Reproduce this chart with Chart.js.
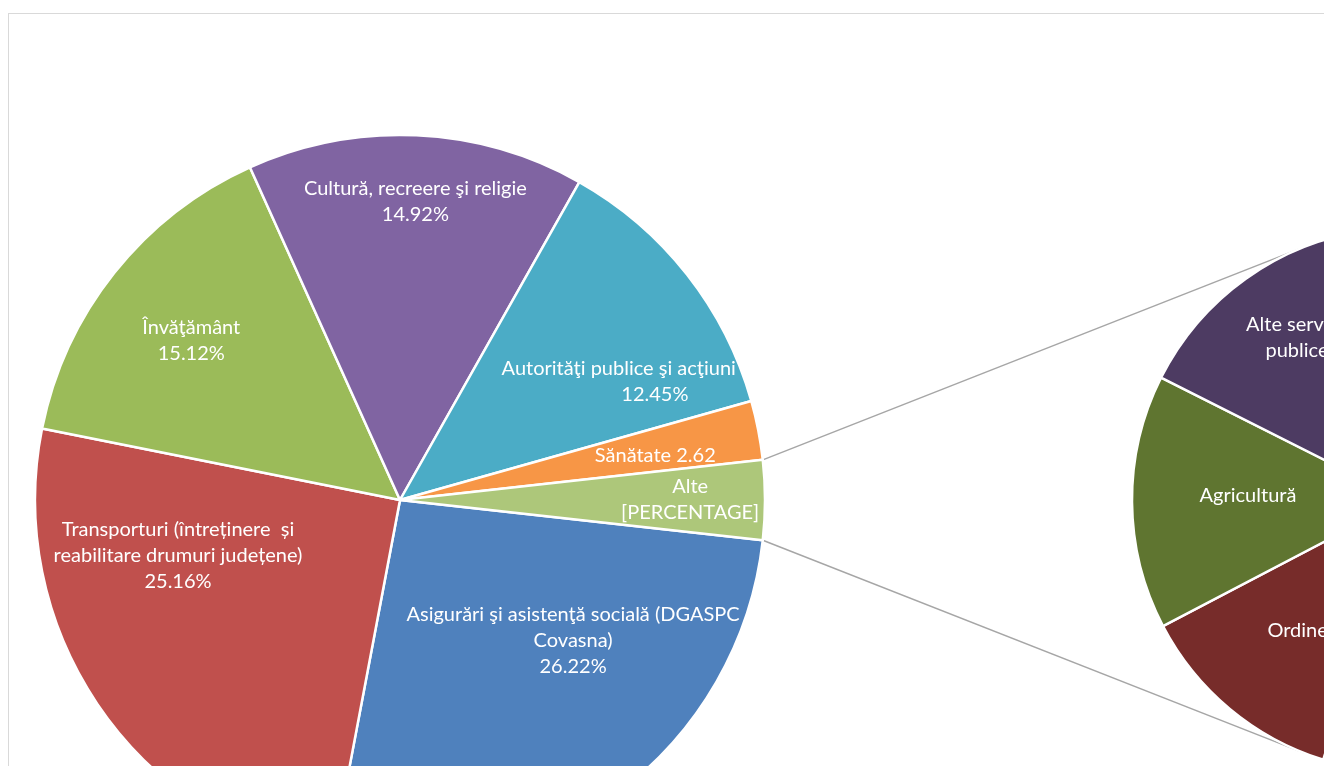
<!DOCTYPE html>
<html><head><meta charset="utf-8">
<script src="https://cdn.jsdelivr.net/npm/chart.js@4.4.1/dist/chart.umd.min.js"></script>
<style>
html,body{margin:0;padding:0;background:#fff;overflow:hidden;width:1324px;height:766px;}
#frame{position:absolute;left:8px;top:13px;width:1500px;height:1000px;border:1.5px solid #D9D9D9;box-sizing:border-box;}
#main{position:absolute;left:0;top:0;}
#second{position:absolute;left:700px;top:0;}
</style></head><body>
<div id="frame"></div>
<canvas id="second" width="1408" height="1000" style="width:1408px;height:1000px"></canvas>
<canvas id="main" width="800" height="1000" style="width:800px;height:1000px"></canvas>
<script>
// ---- main pie data ----
const categories = [
  "Asigurări şi asistenţă socială (DGASPC Covasna)",
  "Transporturi (întreținere  și reabilitare drumuri județene)",
  "Învăţământ",
  "Cultură, recreere şi religie",
  "Autorităţi publice şi acţiuni externe",
  "Sănătate",
  "Alte"
];
const shares = [26.22, 25.16, 15.12, 14.92, 12.45, 2.62, 3.51];
const labelLines = [
  ["Asigurări şi asistenţă socială (DGASPC", "Covasna)", "26.22%"],
  ["Transporturi (întreținere  și", "reabilitare drumuri județene)", "25.16%"],
  ["Învăţământ", "15.12%"],
  ["Cultură, recreere şi religie", "14.92%"],
  ["Autorităţi publice şi acţiuni externe", "12.45%"],
  ["Sănătate 2.62"],
  ["Alte", "[PERCENTAGE]"]
];
const colors = ["#4F81BD", "#C0504D", "#9BBB59", "#8064A2", "#4BACC6", "#F79646", "#ADC77A"];

// ---- secondary pie (breakdown of "Alte") ----
const otherCategories = ["Alte cheltuieli", "Ordine publică", "Agricultură", "Alte servicii publice"];
const otherShares = [2.00, 0.44, 0.53, 0.54];
const otherLabelLines = [["Alte cheltuieli"], ["Ordine publică"], ["Agricultură"], ["Alte servicii", "publice"]];
const otherColors = ["#3A5F8B", "#772C2A", "#5F7530", "#4D3B62"];

// label placement inside slices: [fraction of slice angle, fraction of radius]
const mainPlacement = [[0.346, 0.61], [0.72, 0.627], [0.48, 0.72], [0.507, 0.82], [0.795, 0.77], [0.62, 0.71], [0.5, 0.795]];
const otherPlacement = [[0.5, 0.6], [0.26, 0.55], [0.54, 0.574], [0.538, 0.714]];

const FONT = '20px Lato';
const LINE_H = 26;

function labelPlugin(linesArr, placement) {
  return {
    id: 'sliceLabels',
    afterDatasetsDraw(chart) {
      const ctx = chart.ctx;
      const arcs = chart.getDatasetMeta(0).data;
      ctx.save();
      ctx.font = FONT;
      ctx.fillStyle = '#ffffff';
      ctx.textAlign = 'center';
      ctx.textBaseline = 'middle';
      arcs.forEach((arc, i) => {
        const p = arc.getProps(['x', 'y', 'startAngle', 'endAngle', 'outerRadius'], true);
        const [af, rf] = placement[i];
        const a = p.startAngle + (p.endAngle - p.startAngle) * af;
        const r = p.outerRadius * rf;
        const cx = p.x + Math.cos(a) * r, cy = p.y + Math.sin(a) * r;
        const lines = linesArr[i];
        lines.forEach((t, k) => ctx.fillText(t, cx, cy + (k - (lines.length - 1) / 2) * LINE_H));
      });
      ctx.restore();
    }
  };
}

const mainChart = new Chart(document.getElementById('main'), {
  type: 'pie',
  data: {
    labels: categories,
    datasets: [{ data: shares, backgroundColor: colors, borderColor: '#ffffff', borderWidth: 2.5 }]
  },
  options: {
    responsive: false,
    animation: false,
    rotation: 96.32,
    radius: 365,
    layout: { padding: 0 },
    plugins: { legend: { display: false }, tooltip: { enabled: false } }
  },
  plugins: [labelPlugin(labelLines, mainPlacement)]
});

const connectorPlugin = {
  id: 'connectors',
  beforeDatasetsDraw(chart) {
    const ctx = chart.ctx;
    const arcs = mainChart.getDatasetMeta(0).data;
    const m = arcs[arcs.length - 1].getProps(['x', 'y', 'startAngle', 'endAngle', 'outerRadius'], true);
    const s = chart.getDatasetMeta(0).data[0].getProps(['x', 'y', 'outerRadius'], true);
    const ox = chart.canvas.offsetLeft - mainChart.canvas.offsetLeft;
    const oy = chart.canvas.offsetTop - mainChart.canvas.offsetTop;
    const C = { x: s.x + ox, y: s.y + oy };
    const R = s.outerRadius;
    ctx.save();
    ctx.strokeStyle = '#A6A6A6';
    ctx.lineWidth = 1.5;
    [[m.startAngle, -1], [m.endAngle, 1]].forEach(([ang, dir]) => {
      const P = { x: m.x + Math.cos(ang) * m.outerRadius, y: m.y + Math.sin(ang) * m.outerRadius };
      const d = Math.hypot(P.x - C.x, P.y - C.y);
      const phi = Math.atan2(P.y - C.y, P.x - C.x);
      const beta = Math.acos(R / d);
      const t1 = phi + beta, t2 = phi - beta;
      const y1 = Math.sin(t1), y2 = Math.sin(t2);
      const t = dir < 0 ? (y1 < y2 ? t1 : t2) : (y1 > y2 ? t1 : t2);
      const T = { x: C.x + Math.cos(t) * R, y: C.y + Math.sin(t) * R };
      ctx.beginPath();
      ctx.moveTo(P.x - ox, P.y - oy);
      ctx.lineTo(T.x - ox, T.y - oy);
      ctx.stroke();
    });
    ctx.restore();
  }
};

const secondChart = new Chart(document.getElementById('second'), {
  type: 'pie',
  data: {
    labels: otherCategories,
    datasets: [{ data: otherShares, backgroundColor: otherColors, borderColor: '#ffffff', borderWidth: 2.5 }]
  },
  options: {
    responsive: false,
    animation: false,
    rotation: -7.86,
    radius: 272,
    layout: { padding: 0 },
    plugins: { legend: { display: false }, tooltip: { enabled: false } }
  },
  plugins: [connectorPlugin, labelPlugin(otherLabelLines, otherPlacement)]
});
</script></body></html>
